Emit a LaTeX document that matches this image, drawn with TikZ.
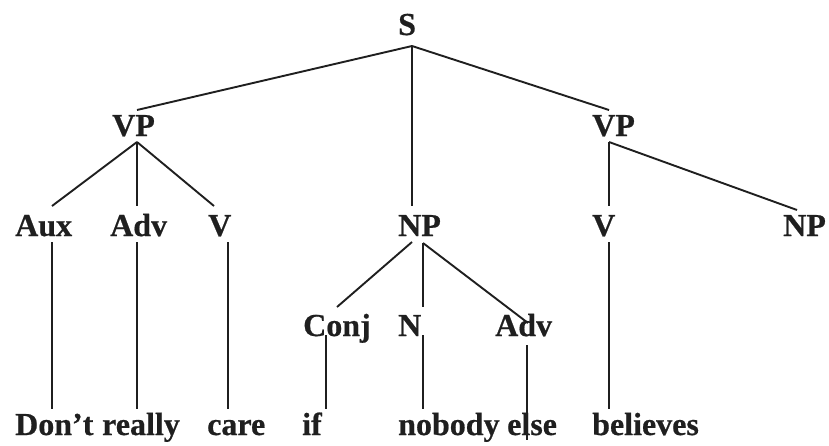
\documentclass[tikz,border=0pt]{standalone}
\usepackage{fontspec}
\setmainfont{Liberation Serif}[BoldFont={Liberation Serif Bold}]
\newfontfamily\treefont{Liberation Serif Bold}[FakeBold=0.6]
\definecolor{ink}{gray}{0.12}
\begin{document}
\begin{tikzpicture}[x=1pt,y=-1pt,
  lab/.style={anchor=base west,inner sep=0pt,text=ink,font=\treefont\fontsize{32}{34}\selectfont},
  edge/.style={draw=ink,line width=1.9pt}]
\useasboundingbox (0,0) rectangle (829,445);
% labels
\node[lab] (S) at (398,35) {S};
\node[lab] (VPa) at (112,136) {VP};
\node[lab] (VPb) at (592,136) {VP};
\node[lab] (Aux) at (15,236) {Aux};
\node[lab] (Adva) at (110,236) {Adv};
\node[lab] (Va) at (208,236) {V};
\node[lab] (NPa) at (398,236) {NP};
\node[lab] (Vb) at (592,236) {V};
\node[lab] (NPb) at (783,236) {NP};
\node[lab] (Conj) at (303,336) {Conj};
\node[lab] (N) at (398,336) {N};
\node[lab] (Advb) at (495,336) {Adv};
\node[lab] (w1) at (15,435) {Don’t};
\node[lab] (w2) at (102,435) {really};
\node[lab] (w3) at (207,435) {care};
\node[lab] (w4) at (302,435) {if};
\node[lab] (w5) at (398,435) {nobody};
\node[lab] (w6) at (507,435) {else};
\node[lab] (w7) at (592,435) {believes};
% connector end points
\coordinate (S-b) at (412,46);
\coordinate (VPa-t) at (137,110);
\coordinate (VPb-t) at (609,110);
\coordinate (NPa-t) at (412,206);
\coordinate (VPa-b) at (137,142);
\coordinate (Aux-t) at (52,206);
\coordinate (Adva-t) at (137,206);
\coordinate (Va-t) at (214,206);
\coordinate (VPb-b) at (609,142);
\coordinate (Vb-t) at (609,206);
\coordinate (NPb-t) at (797,210);
\coordinate (NPa-bl) at (412,242);
\coordinate (NPa-br) at (423,243);
\coordinate (Conj-t) at (337,307);
\coordinate (N-t) at (423,307);
\coordinate (Advb-t) at (528,323);
\coordinate (Aux-b) at (52,242);
\coordinate (w1-t) at (52,409);
\coordinate (Adva-b) at (137,242);
\coordinate (w2-t) at (137,409);
\coordinate (Va-b) at (228,242);
\coordinate (w3-t) at (228,409);
\coordinate (Vb-b) at (609,242);
\coordinate (w7-t) at (609,409);
\coordinate (Conj-b) at (326,335);
\coordinate (w4-t) at (326,409);
\coordinate (N-b) at (423,335);
\coordinate (w5-t) at (423,409);
\coordinate (Advb-b) at (527,345);
\coordinate (w6-t) at (527,440);
% connectors
\path[edge] (S-b) -- (VPa-t);
\path[edge] (S-b) -- (VPb-t);
\path[edge] (S-b) -- (NPa-t);
\path[edge] (VPa-b) -- (Aux-t);
\path[edge] (VPa-b) -- (Adva-t);
\path[edge] (VPa-b) -- (Va-t);
\path[edge] (VPb-b) -- (Vb-t);
\path[edge] (VPb-b) -- (NPb-t);
\path[edge] (NPa-bl) -- (Conj-t);
\path[edge] (NPa-br) -- (N-t);
\path[edge] (NPa-br) -- (Advb-t);
\path[edge] (Aux-b) -- (w1-t);
\path[edge] (Adva-b) -- (w2-t);
\path[edge] (Va-b) -- (w3-t);
\path[edge] (Vb-b) -- (w7-t);
\path[edge] (Conj-b) -- (w4-t);
\path[edge] (N-b) -- (w5-t);
\path[edge] (Advb-b) -- (w6-t);
\end{tikzpicture}
\end{document}
